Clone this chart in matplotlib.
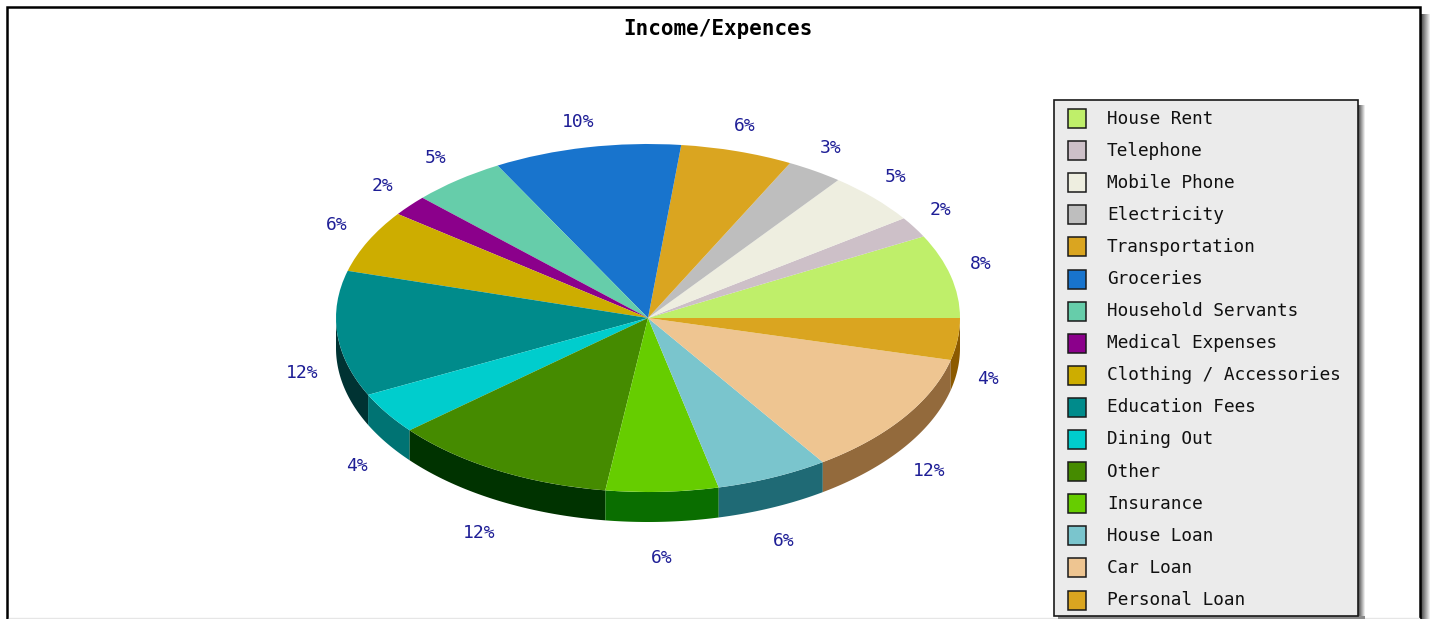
import numpy as np
import matplotlib
matplotlib.use('Agg')
import matplotlib.pyplot as plt
from matplotlib.patches import Rectangle

WIDTH, HEIGHT = 1430, 619

categories = ["House Rent", "Telephone", "Mobile Phone", "Electricity", "Transportation",
              "Groceries", "Household Servants", "Medical Expenses", "Clothing / Accessories",
              "Education Fees", "Dining Out", "Other", "Insurance", "House Loan",
              "Car Loan", "Personal Loan"]
percents = [8, 2, 5, 3, 6, 10, 5, 2, 6, 12, 4, 12, 6, 6, 12, 4]
top_colors = ["#bfef6a", "#cdc0c8", "#eeeee0", "#bebebe", "#daa520", "#1874cd", "#66cdaa", "#8b008b",
              "#cdad00", "#008b8b", "#00cdcd", "#458b00", "#66cd00", "#7ac5cd", "#eec591", "#daa520"]
side_colors = ["#5f7735", "#665f64", "#777770", "#5f5f5f", "#8c5a00", "#0c3a66", "#336655", "#450045",
               "#665600", "#003333", "#007373", "#003300", "#0a6e00", "#1f6a75", "#936a3c", "#8c5a00"]

CX, CY = 648, 318
RX, RY = 312, 174
DEPTH = 30


def pixel_rect(ax, x0, y0, x1, y1, **kwargs):
    ax.add_patch(Rectangle((x0, y0), x1 - x0, y1 - y0, **kwargs))


def fade_right(ax, x0, width, y0, y1):
    # soft shadow, one pixel column at a time from dark to light
    for i, grey in enumerate(np.linspace(0.30, 0.92, width)):
        pixel_rect(ax, x0 + i, y0, x0 + i + 1, y1, facecolor=str(grey), edgecolor='none')


fig = plt.figure(figsize=(WIDTH / 100, HEIGHT / 100), dpi=100, facecolor='white')
plt.rcParams['font.family'] = 'DejaVu Sans Mono'

# full size overlay in pixel coordinates, for the frame, legend and labels
canvas = fig.add_axes([0, 0, 1, 1], zorder=1)
canvas.set_xlim(0, WIDTH)
canvas.set_ylim(HEIGHT, 0)
canvas.axis('off')

# frame with a drop shadow on its right edge
fade_right(canvas, 1421, 9, 14, HEIGHT)
pixel_rect(canvas, 7, 7, 1420, HEIGHT + 10, facecolor='white', edgecolor='black', linewidth=1.8)
canvas.plot([9, 1419], [618, 618], color='#e6e6e6', linewidth=1)

canvas.text(718, 29, "Income/Expences", ha='center', va='center', fontsize=15,
            fontweight='bold', color='black')

# the pie gets its own axes, squashed so that the circle turns into an ellipse
pie_ax = fig.add_axes([0, 0, 1, 1], zorder=2)
pie_ax.patch.set_alpha(0)
pie_ax.pie(percents, colors=top_colors, startangle=0, counterclock=True, radius=1,
           wedgeprops={'linewidth': 0})
pie_ax.set_aspect('auto')
pie_ax.set_xlim(-CX / RX, (WIDTH - CX) / RX)
pie_ax.set_ylim((CY - HEIGHT) / RY, CY / RY)
pie_ax.axis('off')

edges = np.cumsum([0] + percents) / sum(percents) * 360

# side wall along the front half of the pie
depth_units = DEPTH / RY
for start, end, color in zip(edges[:-1], edges[1:], side_colors):
    lo, hi = max(start, 180), min(end, 360)
    if hi <= lo:
        continue
    t = np.radians(np.linspace(lo, hi, 60))
    xs = np.concatenate([np.cos(t), np.cos(t[::-1])])
    ys = np.concatenate([np.sin(t), np.sin(t[::-1]) - depth_units])
    pie_ax.fill(xs, ys, color=color, linewidth=0, zorder=0)

# percent labels sit outside the rim, lower ones pushed down past the wall
mids = np.radians((edges[:-1] + edges[1:]) / 2)
for mid, pct in zip(mids, percents):
    s = np.sin(mid)
    lx = CX - 2 + 345 * np.cos(mid)
    ly = CY - (8 + 192 * s if s >= 0 else -36 + 204 * s)
    canvas.text(lx, ly, f"{pct}%", ha='center', va='center', fontsize=13, color='#1e1e96', zorder=5)

# legend box
legend_ax = fig.add_axes([0, 0, 1, 1], zorder=3)
legend_ax.set_xlim(0, WIDTH)
legend_ax.set_ylim(HEIGHT, 0)
legend_ax.axis('off')
fade_right(legend_ax, 1358, 7, 105, HEIGHT)
pixel_rect(legend_ax, 1058, 616, 1365, HEIGHT, facecolor='#8a8a8a', edgecolor='none')
pixel_rect(legend_ax, 1053.5, 99.5, 1358, 616, facecolor='#ebebeb', edgecolor='#1a1a1a', linewidth=1.2)
for i, (name, color) in enumerate(zip(categories, top_colors)):
    y = 118.5 + i * 32.1
    pixel_rect(legend_ax, 1067.5, y - 9.5, 1086, y + 9.5, facecolor=color, edgecolor='#1a1a1a', linewidth=1.1)
    legend_ax.text(1107, y, name, ha='left', va='center', fontsize=12.8, color='#111111')

fig.savefig('out.png', dpi=100)
